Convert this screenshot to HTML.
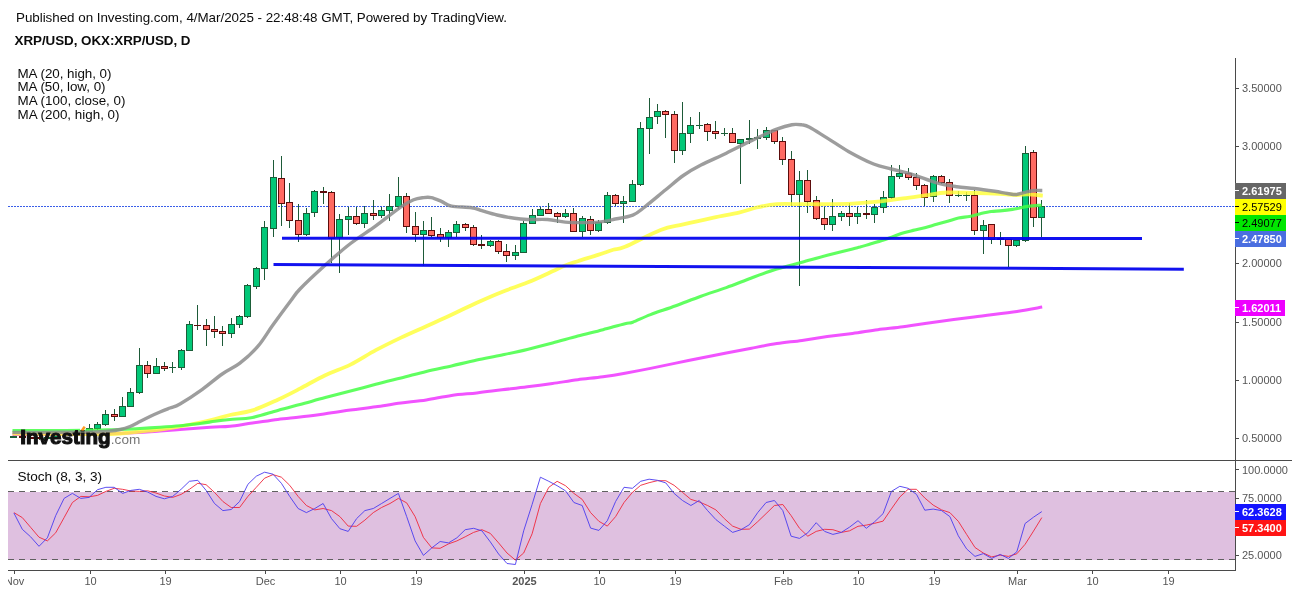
<!DOCTYPE html><html><head><meta charset="utf-8"><title>XRP/USD</title><style>html,body{margin:0;padding:0;background:#fff;overflow:hidden}body{width:1299px;height:594px;position:relative}</style></head><body>
<svg width="1299" height="594" viewBox="0 0 1299 594" style="position:absolute;left:0;top:0">
<rect x="8" y="492" width="1227" height="68" fill="#dfc0e0"/>
<g shape-rendering="crispEdges">
<line x1="8" y1="491.5" x2="1235" y2="491.5" stroke="#606060" stroke-width="1" stroke-dasharray="6 5"/>
<line x1="8" y1="559.5" x2="1235" y2="559.5" stroke="#606060" stroke-width="1" stroke-dasharray="6 5"/>
<line x1="8" y1="206.5" x2="1235" y2="206.5" stroke="#3a5ee8" stroke-width="1" stroke-dasharray="2 1"/>
<line x1="13.5" y1="435" x2="13.5" y2="438" stroke="#1d5a38" stroke-width="1"/>
<rect x="10.5" y="436.5" width="6" height="1" fill="#02c878" stroke="#1b5e38" stroke-width="1"/>
<line x1="22.5" y1="436" x2="22.5" y2="438" stroke="#1d5a38" stroke-width="1"/>
<rect x="19.5" y="436.5" width="6" height="1" fill="#ff6a62" stroke="#5c0c0c" stroke-width="1"/>
<line x1="30.5" y1="436" x2="30.5" y2="439" stroke="#1d5a38" stroke-width="1"/>
<rect x="27.5" y="437.5" width="6" height="1" fill="#ff6a62" stroke="#5c0c0c" stroke-width="1"/>
<line x1="39.5" y1="436" x2="39.5" y2="440" stroke="#1d5a38" stroke-width="1"/>
<rect x="36.5" y="437.5" width="6" height="1" fill="#ff6a62" stroke="#5c0c0c" stroke-width="1"/>
<line x1="47.5" y1="436" x2="47.5" y2="439" stroke="#1d5a38" stroke-width="1"/>
<rect x="44.5" y="437.5" width="6" height="1" fill="#02c878" stroke="#1b5e38" stroke-width="1"/>
<line x1="55.5" y1="432" x2="55.5" y2="438" stroke="#1d5a38" stroke-width="1"/>
<rect x="52.5" y="432.5" width="6" height="5" fill="#02c878" stroke="#1b5e38" stroke-width="1"/>
<line x1="64.5" y1="431" x2="64.5" y2="434" stroke="#1d5a38" stroke-width="1"/>
<rect x="61.5" y="432.5" width="6" height="1" fill="#ff6a62" stroke="#5c0c0c" stroke-width="1"/>
<line x1="72.5" y1="432" x2="72.5" y2="435" stroke="#1d5a38" stroke-width="1"/>
<rect x="69.5" y="433.5" width="6" height="1" fill="#ff6a62" stroke="#5c0c0c" stroke-width="1"/>
<line x1="80.5" y1="430" x2="80.5" y2="434" stroke="#1d5a38" stroke-width="1"/>
<rect x="77.5" y="431.5" width="6" height="2" fill="#02c878" stroke="#1b5e38" stroke-width="1"/>
<line x1="89.5" y1="424" x2="89.5" y2="432" stroke="#1d5a38" stroke-width="1"/>
<rect x="86.5" y="428.5" width="6" height="3" fill="#02c878" stroke="#1b5e38" stroke-width="1"/>
<line x1="97.5" y1="422" x2="97.5" y2="430" stroke="#1d5a38" stroke-width="1"/>
<rect x="94.5" y="424.5" width="6" height="4" fill="#02c878" stroke="#1b5e38" stroke-width="1"/>
<line x1="105.5" y1="410" x2="105.5" y2="426" stroke="#1d5a38" stroke-width="1"/>
<rect x="102.5" y="414.5" width="6" height="10" fill="#02c878" stroke="#1b5e38" stroke-width="1"/>
<line x1="114.5" y1="409" x2="114.5" y2="421" stroke="#1d5a38" stroke-width="1"/>
<rect x="111.5" y="414.5" width="6" height="2" fill="#ff6a62" stroke="#5c0c0c" stroke-width="1"/>
<line x1="122.5" y1="397" x2="122.5" y2="416" stroke="#1d5a38" stroke-width="1"/>
<rect x="119.5" y="406.5" width="6" height="10" fill="#02c878" stroke="#1b5e38" stroke-width="1"/>
<line x1="130.5" y1="388" x2="130.5" y2="406" stroke="#1d5a38" stroke-width="1"/>
<rect x="127.5" y="392.5" width="6" height="14" fill="#02c878" stroke="#1b5e38" stroke-width="1"/>
<line x1="139.5" y1="348" x2="139.5" y2="394" stroke="#1d5a38" stroke-width="1"/>
<rect x="136.5" y="365.5" width="6" height="27" fill="#02c878" stroke="#1b5e38" stroke-width="1"/>
<line x1="147.5" y1="361" x2="147.5" y2="378" stroke="#1d5a38" stroke-width="1"/>
<rect x="144.5" y="365.5" width="6" height="8" fill="#ff6a62" stroke="#5c0c0c" stroke-width="1"/>
<line x1="156.5" y1="358" x2="156.5" y2="374" stroke="#1d5a38" stroke-width="1"/>
<rect x="153.5" y="366.5" width="6" height="7" fill="#02c878" stroke="#1b5e38" stroke-width="1"/>
<line x1="164.5" y1="362" x2="164.5" y2="371" stroke="#1d5a38" stroke-width="1"/>
<rect x="161.5" y="366.5" width="6" height="2" fill="#ff6a62" stroke="#5c0c0c" stroke-width="1"/>
<line x1="172.5" y1="362" x2="172.5" y2="373" stroke="#1d5a38" stroke-width="1"/>
<line x1="169" y1="367.5" x2="176" y2="367.5" stroke="#1b5e38" stroke-width="1"/>
<line x1="181.5" y1="349" x2="181.5" y2="370" stroke="#1d5a38" stroke-width="1"/>
<rect x="178.5" y="350.5" width="6" height="17" fill="#02c878" stroke="#1b5e38" stroke-width="1"/>
<line x1="189.5" y1="321" x2="189.5" y2="350" stroke="#1d5a38" stroke-width="1"/>
<rect x="186.5" y="324.5" width="6" height="26" fill="#02c878" stroke="#1b5e38" stroke-width="1"/>
<line x1="197.5" y1="305" x2="197.5" y2="330" stroke="#1d5a38" stroke-width="1"/>
<line x1="194" y1="325.5" x2="201" y2="325.5" stroke="#5c0c0c" stroke-width="1"/>
<line x1="206.5" y1="319" x2="206.5" y2="346" stroke="#1d5a38" stroke-width="1"/>
<rect x="203.5" y="325.5" width="6" height="4" fill="#ff6a62" stroke="#5c0c0c" stroke-width="1"/>
<line x1="214.5" y1="316" x2="214.5" y2="338" stroke="#1d5a38" stroke-width="1"/>
<rect x="211.5" y="329.5" width="6" height="2" fill="#ff6a62" stroke="#5c0c0c" stroke-width="1"/>
<line x1="222.5" y1="326" x2="222.5" y2="346" stroke="#1d5a38" stroke-width="1"/>
<rect x="219.5" y="331.5" width="6" height="2" fill="#ff6a62" stroke="#5c0c0c" stroke-width="1"/>
<line x1="231.5" y1="318" x2="231.5" y2="338" stroke="#1d5a38" stroke-width="1"/>
<rect x="228.5" y="324.5" width="6" height="9" fill="#02c878" stroke="#1b5e38" stroke-width="1"/>
<line x1="239.5" y1="315" x2="239.5" y2="328" stroke="#1d5a38" stroke-width="1"/>
<rect x="236.5" y="316.5" width="6" height="8" fill="#02c878" stroke="#1b5e38" stroke-width="1"/>
<line x1="247.5" y1="284" x2="247.5" y2="318" stroke="#1d5a38" stroke-width="1"/>
<rect x="244.5" y="285.5" width="6" height="31" fill="#02c878" stroke="#1b5e38" stroke-width="1"/>
<line x1="256.5" y1="267" x2="256.5" y2="289" stroke="#1d5a38" stroke-width="1"/>
<rect x="253.5" y="268.5" width="6" height="18" fill="#02c878" stroke="#1b5e38" stroke-width="1"/>
<line x1="264.5" y1="221" x2="264.5" y2="280" stroke="#1d5a38" stroke-width="1"/>
<rect x="261.5" y="227.5" width="6" height="41" fill="#02c878" stroke="#1b5e38" stroke-width="1"/>
<line x1="273.5" y1="160" x2="273.5" y2="237" stroke="#1d5a38" stroke-width="1"/>
<rect x="270.5" y="177.5" width="6" height="51" fill="#02c878" stroke="#1b5e38" stroke-width="1"/>
<line x1="281.5" y1="156" x2="281.5" y2="226" stroke="#1d5a38" stroke-width="1"/>
<rect x="278.5" y="178.5" width="6" height="25" fill="#ff6a62" stroke="#5c0c0c" stroke-width="1"/>
<line x1="289.5" y1="183" x2="289.5" y2="228" stroke="#1d5a38" stroke-width="1"/>
<rect x="286.5" y="202.5" width="6" height="18" fill="#ff6a62" stroke="#5c0c0c" stroke-width="1"/>
<line x1="298.5" y1="204" x2="298.5" y2="242" stroke="#1d5a38" stroke-width="1"/>
<rect x="295.5" y="220.5" width="6" height="14" fill="#ff6a62" stroke="#5c0c0c" stroke-width="1"/>
<line x1="306.5" y1="208" x2="306.5" y2="236" stroke="#1d5a38" stroke-width="1"/>
<rect x="303.5" y="213.5" width="6" height="21" fill="#02c878" stroke="#1b5e38" stroke-width="1"/>
<line x1="314.5" y1="190" x2="314.5" y2="217" stroke="#1d5a38" stroke-width="1"/>
<rect x="311.5" y="191.5" width="6" height="21" fill="#02c878" stroke="#1b5e38" stroke-width="1"/>
<line x1="323.5" y1="187" x2="323.5" y2="204" stroke="#1d5a38" stroke-width="1"/>
<rect x="320.5" y="191.5" width="6" height="1" fill="#ff6a62" stroke="#5c0c0c" stroke-width="1"/>
<line x1="331.5" y1="191" x2="331.5" y2="263" stroke="#1d5a38" stroke-width="1"/>
<rect x="328.5" y="192.5" width="6" height="46" fill="#ff6a62" stroke="#5c0c0c" stroke-width="1"/>
<line x1="339.5" y1="214" x2="339.5" y2="273" stroke="#1d5a38" stroke-width="1"/>
<rect x="336.5" y="219.5" width="6" height="18" fill="#02c878" stroke="#1b5e38" stroke-width="1"/>
<line x1="348.5" y1="207" x2="348.5" y2="235" stroke="#1d5a38" stroke-width="1"/>
<rect x="345.5" y="216.5" width="6" height="3" fill="#02c878" stroke="#1b5e38" stroke-width="1"/>
<line x1="356.5" y1="207" x2="356.5" y2="225" stroke="#1d5a38" stroke-width="1"/>
<rect x="353.5" y="216.5" width="6" height="7" fill="#ff6a62" stroke="#5c0c0c" stroke-width="1"/>
<line x1="364.5" y1="206" x2="364.5" y2="228" stroke="#1d5a38" stroke-width="1"/>
<rect x="361.5" y="213.5" width="6" height="10" fill="#02c878" stroke="#1b5e38" stroke-width="1"/>
<line x1="373.5" y1="200" x2="373.5" y2="220" stroke="#1d5a38" stroke-width="1"/>
<rect x="370.5" y="213.5" width="6" height="2" fill="#ff6a62" stroke="#5c0c0c" stroke-width="1"/>
<line x1="381.5" y1="207" x2="381.5" y2="218" stroke="#1d5a38" stroke-width="1"/>
<rect x="378.5" y="210.5" width="6" height="5" fill="#02c878" stroke="#1b5e38" stroke-width="1"/>
<line x1="389.5" y1="194" x2="389.5" y2="221" stroke="#1d5a38" stroke-width="1"/>
<rect x="386.5" y="206.5" width="6" height="4" fill="#02c878" stroke="#1b5e38" stroke-width="1"/>
<line x1="398.5" y1="177" x2="398.5" y2="209" stroke="#1d5a38" stroke-width="1"/>
<rect x="395.5" y="196.5" width="6" height="10" fill="#02c878" stroke="#1b5e38" stroke-width="1"/>
<line x1="406.5" y1="193" x2="406.5" y2="233" stroke="#1d5a38" stroke-width="1"/>
<rect x="403.5" y="196.5" width="6" height="30" fill="#ff6a62" stroke="#5c0c0c" stroke-width="1"/>
<line x1="415.5" y1="212" x2="415.5" y2="242" stroke="#1d5a38" stroke-width="1"/>
<rect x="412.5" y="226.5" width="6" height="8" fill="#ff6a62" stroke="#5c0c0c" stroke-width="1"/>
<line x1="423.5" y1="221" x2="423.5" y2="266" stroke="#1d5a38" stroke-width="1"/>
<rect x="420.5" y="230.5" width="6" height="4" fill="#02c878" stroke="#1b5e38" stroke-width="1"/>
<line x1="431.5" y1="217" x2="431.5" y2="237" stroke="#1d5a38" stroke-width="1"/>
<rect x="428.5" y="230.5" width="6" height="5" fill="#ff6a62" stroke="#5c0c0c" stroke-width="1"/>
<line x1="440.5" y1="228" x2="440.5" y2="242" stroke="#1d5a38" stroke-width="1"/>
<rect x="437.5" y="234.5" width="6" height="3" fill="#ff6a62" stroke="#5c0c0c" stroke-width="1"/>
<line x1="448.5" y1="230" x2="448.5" y2="247" stroke="#1d5a38" stroke-width="1"/>
<rect x="445.5" y="232.5" width="6" height="5" fill="#02c878" stroke="#1b5e38" stroke-width="1"/>
<line x1="456.5" y1="221" x2="456.5" y2="237" stroke="#1d5a38" stroke-width="1"/>
<rect x="453.5" y="224.5" width="6" height="8" fill="#02c878" stroke="#1b5e38" stroke-width="1"/>
<line x1="465.5" y1="223" x2="465.5" y2="231" stroke="#1d5a38" stroke-width="1"/>
<rect x="462.5" y="224.5" width="6" height="3" fill="#ff6a62" stroke="#5c0c0c" stroke-width="1"/>
<line x1="473.5" y1="225" x2="473.5" y2="246" stroke="#1d5a38" stroke-width="1"/>
<rect x="470.5" y="227.5" width="6" height="17" fill="#ff6a62" stroke="#5c0c0c" stroke-width="1"/>
<line x1="481.5" y1="235" x2="481.5" y2="249" stroke="#1d5a38" stroke-width="1"/>
<rect x="478.5" y="244.5" width="6" height="1" fill="#ff6a62" stroke="#5c0c0c" stroke-width="1"/>
<line x1="490.5" y1="240" x2="490.5" y2="247" stroke="#1d5a38" stroke-width="1"/>
<rect x="487.5" y="241.5" width="6" height="4" fill="#02c878" stroke="#1b5e38" stroke-width="1"/>
<line x1="498.5" y1="240" x2="498.5" y2="254" stroke="#1d5a38" stroke-width="1"/>
<rect x="495.5" y="241.5" width="6" height="10" fill="#ff6a62" stroke="#5c0c0c" stroke-width="1"/>
<line x1="506.5" y1="244" x2="506.5" y2="262" stroke="#1d5a38" stroke-width="1"/>
<rect x="503.5" y="251.5" width="6" height="4" fill="#ff6a62" stroke="#5c0c0c" stroke-width="1"/>
<line x1="515.5" y1="245" x2="515.5" y2="260" stroke="#1d5a38" stroke-width="1"/>
<rect x="512.5" y="252.5" width="6" height="3" fill="#02c878" stroke="#1b5e38" stroke-width="1"/>
<line x1="523.5" y1="221" x2="523.5" y2="253" stroke="#1d5a38" stroke-width="1"/>
<rect x="520.5" y="223.5" width="6" height="29" fill="#02c878" stroke="#1b5e38" stroke-width="1"/>
<line x1="532.5" y1="209" x2="532.5" y2="224" stroke="#1d5a38" stroke-width="1"/>
<rect x="529.5" y="215.5" width="6" height="8" fill="#02c878" stroke="#1b5e38" stroke-width="1"/>
<line x1="540.5" y1="207" x2="540.5" y2="216" stroke="#1d5a38" stroke-width="1"/>
<rect x="537.5" y="209.5" width="6" height="6" fill="#02c878" stroke="#1b5e38" stroke-width="1"/>
<line x1="548.5" y1="203" x2="548.5" y2="214" stroke="#1d5a38" stroke-width="1"/>
<rect x="545.5" y="209.5" width="6" height="4" fill="#ff6a62" stroke="#5c0c0c" stroke-width="1"/>
<line x1="557.5" y1="212" x2="557.5" y2="223" stroke="#1d5a38" stroke-width="1"/>
<rect x="554.5" y="213.5" width="6" height="3" fill="#ff6a62" stroke="#5c0c0c" stroke-width="1"/>
<line x1="565.5" y1="209" x2="565.5" y2="218" stroke="#1d5a38" stroke-width="1"/>
<rect x="562.5" y="213.5" width="6" height="3" fill="#02c878" stroke="#1b5e38" stroke-width="1"/>
<line x1="573.5" y1="208" x2="573.5" y2="231" stroke="#1d5a38" stroke-width="1"/>
<rect x="570.5" y="213.5" width="6" height="18" fill="#ff6a62" stroke="#5c0c0c" stroke-width="1"/>
<line x1="582.5" y1="216" x2="582.5" y2="237" stroke="#1d5a38" stroke-width="1"/>
<rect x="579.5" y="218.5" width="6" height="13" fill="#02c878" stroke="#1b5e38" stroke-width="1"/>
<line x1="590.5" y1="216" x2="590.5" y2="235" stroke="#1d5a38" stroke-width="1"/>
<rect x="587.5" y="219.5" width="6" height="11" fill="#ff6a62" stroke="#5c0c0c" stroke-width="1"/>
<line x1="598.5" y1="220" x2="598.5" y2="232" stroke="#1d5a38" stroke-width="1"/>
<rect x="595.5" y="222.5" width="6" height="8" fill="#02c878" stroke="#1b5e38" stroke-width="1"/>
<line x1="607.5" y1="192" x2="607.5" y2="224" stroke="#1d5a38" stroke-width="1"/>
<rect x="604.5" y="195.5" width="6" height="27" fill="#02c878" stroke="#1b5e38" stroke-width="1"/>
<line x1="615.5" y1="194" x2="615.5" y2="206" stroke="#1d5a38" stroke-width="1"/>
<rect x="612.5" y="195.5" width="6" height="8" fill="#ff6a62" stroke="#5c0c0c" stroke-width="1"/>
<line x1="623.5" y1="196" x2="623.5" y2="223" stroke="#1d5a38" stroke-width="1"/>
<rect x="620.5" y="201.5" width="6" height="2" fill="#02c878" stroke="#1b5e38" stroke-width="1"/>
<line x1="632.5" y1="180" x2="632.5" y2="202" stroke="#1d5a38" stroke-width="1"/>
<rect x="629.5" y="184.5" width="6" height="17" fill="#02c878" stroke="#1b5e38" stroke-width="1"/>
<line x1="640.5" y1="122" x2="640.5" y2="186" stroke="#1d5a38" stroke-width="1"/>
<rect x="637.5" y="128.5" width="6" height="56" fill="#02c878" stroke="#1b5e38" stroke-width="1"/>
<line x1="649.5" y1="98" x2="649.5" y2="154" stroke="#1d5a38" stroke-width="1"/>
<rect x="646.5" y="117.5" width="6" height="11" fill="#02c878" stroke="#1b5e38" stroke-width="1"/>
<line x1="657.5" y1="104" x2="657.5" y2="124" stroke="#1d5a38" stroke-width="1"/>
<rect x="654.5" y="111.5" width="6" height="5" fill="#02c878" stroke="#1b5e38" stroke-width="1"/>
<line x1="665.5" y1="110" x2="665.5" y2="138" stroke="#1d5a38" stroke-width="1"/>
<rect x="662.5" y="111.5" width="6" height="3" fill="#ff6a62" stroke="#5c0c0c" stroke-width="1"/>
<line x1="674.5" y1="111" x2="674.5" y2="163" stroke="#1d5a38" stroke-width="1"/>
<rect x="671.5" y="114.5" width="6" height="36" fill="#ff6a62" stroke="#5c0c0c" stroke-width="1"/>
<line x1="682.5" y1="102" x2="682.5" y2="155" stroke="#1d5a38" stroke-width="1"/>
<rect x="679.5" y="133.5" width="6" height="17" fill="#02c878" stroke="#1b5e38" stroke-width="1"/>
<line x1="690.5" y1="117" x2="690.5" y2="143" stroke="#1d5a38" stroke-width="1"/>
<rect x="687.5" y="125.5" width="6" height="8" fill="#02c878" stroke="#1b5e38" stroke-width="1"/>
<line x1="699.5" y1="112" x2="699.5" y2="129" stroke="#1d5a38" stroke-width="1"/>
<line x1="696" y1="125.5" x2="703" y2="125.5" stroke="#1b5e38" stroke-width="1"/>
<line x1="707.5" y1="123" x2="707.5" y2="141" stroke="#1d5a38" stroke-width="1"/>
<rect x="704.5" y="124.5" width="6" height="7" fill="#ff6a62" stroke="#5c0c0c" stroke-width="1"/>
<line x1="715.5" y1="121" x2="715.5" y2="139" stroke="#1d5a38" stroke-width="1"/>
<rect x="712.5" y="131.5" width="6" height="2" fill="#ff6a62" stroke="#5c0c0c" stroke-width="1"/>
<line x1="724.5" y1="128" x2="724.5" y2="136" stroke="#1d5a38" stroke-width="1"/>
<line x1="721" y1="133.5" x2="728" y2="133.5" stroke="#1b5e38" stroke-width="1"/>
<line x1="732.5" y1="128" x2="732.5" y2="143" stroke="#1d5a38" stroke-width="1"/>
<rect x="729.5" y="133.5" width="6" height="9" fill="#ff6a62" stroke="#5c0c0c" stroke-width="1"/>
<line x1="740.5" y1="139" x2="740.5" y2="184" stroke="#1d5a38" stroke-width="1"/>
<rect x="737.5" y="139.5" width="6" height="4" fill="#02c878" stroke="#1b5e38" stroke-width="1"/>
<line x1="749.5" y1="120" x2="749.5" y2="144" stroke="#1d5a38" stroke-width="1"/>
<rect x="746.5" y="138.5" width="6" height="1" fill="#02c878" stroke="#1b5e38" stroke-width="1"/>
<line x1="757.5" y1="129" x2="757.5" y2="149" stroke="#1d5a38" stroke-width="1"/>
<rect x="754.5" y="137.5" width="6" height="1" fill="#02c878" stroke="#1b5e38" stroke-width="1"/>
<line x1="766.5" y1="127" x2="766.5" y2="140" stroke="#1d5a38" stroke-width="1"/>
<rect x="763.5" y="130.5" width="6" height="7" fill="#02c878" stroke="#1b5e38" stroke-width="1"/>
<line x1="774.5" y1="130" x2="774.5" y2="144" stroke="#1d5a38" stroke-width="1"/>
<rect x="771.5" y="130.5" width="6" height="11" fill="#ff6a62" stroke="#5c0c0c" stroke-width="1"/>
<line x1="782.5" y1="137" x2="782.5" y2="165" stroke="#1d5a38" stroke-width="1"/>
<rect x="779.5" y="141.5" width="6" height="18" fill="#ff6a62" stroke="#5c0c0c" stroke-width="1"/>
<line x1="791.5" y1="151" x2="791.5" y2="206" stroke="#1d5a38" stroke-width="1"/>
<rect x="788.5" y="159.5" width="6" height="35" fill="#ff6a62" stroke="#5c0c0c" stroke-width="1"/>
<line x1="799.5" y1="171" x2="799.5" y2="286" stroke="#1d5a38" stroke-width="1"/>
<rect x="796.5" y="180.5" width="6" height="14" fill="#02c878" stroke="#1b5e38" stroke-width="1"/>
<line x1="807.5" y1="170" x2="807.5" y2="213" stroke="#1d5a38" stroke-width="1"/>
<rect x="804.5" y="180.5" width="6" height="21" fill="#ff6a62" stroke="#5c0c0c" stroke-width="1"/>
<line x1="816.5" y1="196" x2="816.5" y2="220" stroke="#1d5a38" stroke-width="1"/>
<rect x="813.5" y="200.5" width="6" height="18" fill="#ff6a62" stroke="#5c0c0c" stroke-width="1"/>
<line x1="824.5" y1="207" x2="824.5" y2="230" stroke="#1d5a38" stroke-width="1"/>
<rect x="821.5" y="218.5" width="6" height="6" fill="#ff6a62" stroke="#5c0c0c" stroke-width="1"/>
<line x1="832.5" y1="199" x2="832.5" y2="231" stroke="#1d5a38" stroke-width="1"/>
<rect x="829.5" y="216.5" width="6" height="8" fill="#02c878" stroke="#1b5e38" stroke-width="1"/>
<line x1="841.5" y1="211" x2="841.5" y2="221" stroke="#1d5a38" stroke-width="1"/>
<rect x="838.5" y="213.5" width="6" height="3" fill="#02c878" stroke="#1b5e38" stroke-width="1"/>
<line x1="849.5" y1="203" x2="849.5" y2="226" stroke="#1d5a38" stroke-width="1"/>
<rect x="846.5" y="213.5" width="6" height="3" fill="#ff6a62" stroke="#5c0c0c" stroke-width="1"/>
<line x1="857.5" y1="207" x2="857.5" y2="224" stroke="#1d5a38" stroke-width="1"/>
<rect x="854.5" y="213.5" width="6" height="3" fill="#02c878" stroke="#1b5e38" stroke-width="1"/>
<line x1="866.5" y1="200" x2="866.5" y2="219" stroke="#1d5a38" stroke-width="1"/>
<rect x="863.5" y="213.5" width="6" height="1" fill="#ff6a62" stroke="#5c0c0c" stroke-width="1"/>
<line x1="874.5" y1="204" x2="874.5" y2="223" stroke="#1d5a38" stroke-width="1"/>
<rect x="871.5" y="207.5" width="6" height="7" fill="#02c878" stroke="#1b5e38" stroke-width="1"/>
<line x1="883.5" y1="191" x2="883.5" y2="213" stroke="#1d5a38" stroke-width="1"/>
<rect x="880.5" y="197.5" width="6" height="10" fill="#02c878" stroke="#1b5e38" stroke-width="1"/>
<line x1="891.5" y1="165" x2="891.5" y2="199" stroke="#1d5a38" stroke-width="1"/>
<rect x="888.5" y="176.5" width="6" height="21" fill="#02c878" stroke="#1b5e38" stroke-width="1"/>
<line x1="899.5" y1="165" x2="899.5" y2="179" stroke="#1d5a38" stroke-width="1"/>
<rect x="896.5" y="173.5" width="6" height="3" fill="#02c878" stroke="#1b5e38" stroke-width="1"/>
<line x1="908.5" y1="168" x2="908.5" y2="180" stroke="#1d5a38" stroke-width="1"/>
<rect x="905.5" y="173.5" width="6" height="4" fill="#ff6a62" stroke="#5c0c0c" stroke-width="1"/>
<line x1="916.5" y1="173" x2="916.5" y2="190" stroke="#1d5a38" stroke-width="1"/>
<rect x="913.5" y="177.5" width="6" height="8" fill="#ff6a62" stroke="#5c0c0c" stroke-width="1"/>
<line x1="924.5" y1="184" x2="924.5" y2="206" stroke="#1d5a38" stroke-width="1"/>
<rect x="921.5" y="185.5" width="6" height="12" fill="#ff6a62" stroke="#5c0c0c" stroke-width="1"/>
<line x1="933.5" y1="175" x2="933.5" y2="202" stroke="#1d5a38" stroke-width="1"/>
<rect x="930.5" y="176.5" width="6" height="20" fill="#02c878" stroke="#1b5e38" stroke-width="1"/>
<line x1="941.5" y1="175" x2="941.5" y2="184" stroke="#1d5a38" stroke-width="1"/>
<rect x="938.5" y="176.5" width="6" height="6" fill="#ff6a62" stroke="#5c0c0c" stroke-width="1"/>
<line x1="949.5" y1="179" x2="949.5" y2="203" stroke="#1d5a38" stroke-width="1"/>
<rect x="946.5" y="182.5" width="6" height="13" fill="#ff6a62" stroke="#5c0c0c" stroke-width="1"/>
<line x1="958.5" y1="191" x2="958.5" y2="197" stroke="#1d5a38" stroke-width="1"/>
<line x1="955" y1="195.5" x2="962" y2="195.5" stroke="#1b5e38" stroke-width="1"/>
<line x1="966.5" y1="192" x2="966.5" y2="201" stroke="#1d5a38" stroke-width="1"/>
<line x1="963" y1="195.5" x2="970" y2="195.5" stroke="#1b5e38" stroke-width="1"/>
<line x1="974.5" y1="190" x2="974.5" y2="235" stroke="#1d5a38" stroke-width="1"/>
<rect x="971.5" y="195.5" width="6" height="35" fill="#ff6a62" stroke="#5c0c0c" stroke-width="1"/>
<line x1="983.5" y1="220" x2="983.5" y2="254" stroke="#1d5a38" stroke-width="1"/>
<rect x="980.5" y="225.5" width="6" height="5" fill="#02c878" stroke="#1b5e38" stroke-width="1"/>
<line x1="991.5" y1="224" x2="991.5" y2="244" stroke="#1d5a38" stroke-width="1"/>
<rect x="988.5" y="224.5" width="6" height="15" fill="#ff6a62" stroke="#5c0c0c" stroke-width="1"/>
<line x1="1000.5" y1="232" x2="1000.5" y2="245" stroke="#1d5a38" stroke-width="1"/>
<rect x="997.5" y="238.5" width="6" height="1" fill="#ff6a62" stroke="#5c0c0c" stroke-width="1"/>
<line x1="1008.5" y1="239" x2="1008.5" y2="267" stroke="#1d5a38" stroke-width="1"/>
<rect x="1005.5" y="239.5" width="6" height="6" fill="#ff6a62" stroke="#5c0c0c" stroke-width="1"/>
<line x1="1016.5" y1="240" x2="1016.5" y2="247" stroke="#1d5a38" stroke-width="1"/>
<rect x="1013.5" y="240.5" width="6" height="5" fill="#02c878" stroke="#1b5e38" stroke-width="1"/>
<line x1="1025.5" y1="146" x2="1025.5" y2="242" stroke="#1d5a38" stroke-width="1"/>
<rect x="1022.5" y="153.5" width="6" height="87" fill="#02c878" stroke="#1b5e38" stroke-width="1"/>
<line x1="1033.5" y1="150" x2="1033.5" y2="227" stroke="#1d5a38" stroke-width="1"/>
<rect x="1030.5" y="152.5" width="6" height="65" fill="#ff6a62" stroke="#5c0c0c" stroke-width="1"/>
<line x1="1041.5" y1="200" x2="1041.5" y2="237" stroke="#1d5a38" stroke-width="1"/>
<rect x="1038.5" y="206.5" width="6" height="11" fill="#02c878" stroke="#1b5e38" stroke-width="1"/>
</g>
<path d="M12.5,434.5C20.4,434.5 42.6,434.5 60.0,434.3C77.4,434.1 100.3,434.1 117.0,433.5C133.7,432.9 149.5,431.7 160.0,431.0C170.5,430.3 173.3,430.0 180.0,429.5C186.7,429.0 194.2,428.4 200.0,428.0C205.8,427.6 210.0,427.3 215.0,427.0C220.0,426.7 223.8,426.9 230.0,426.2C236.2,425.5 244.5,424.1 252.5,423.0C260.5,421.9 269.9,420.4 277.8,419.4C285.7,418.4 292.1,417.9 300.0,417.0C307.9,416.1 316.9,414.9 325.3,413.8C333.7,412.7 342.1,411.3 350.5,410.1C358.9,408.9 367.4,408.0 375.8,406.8C384.2,405.6 392.6,404.1 401.0,403.0C409.4,401.9 417.9,401.2 426.3,399.9C434.7,398.6 443.1,396.6 451.5,395.4C459.9,394.2 468.4,393.8 476.8,392.9C485.2,392.0 493.6,390.8 502.0,389.8C510.4,388.8 518.9,387.9 527.3,386.8C535.7,385.8 544.1,384.7 552.5,383.5C560.9,382.3 569.4,380.8 577.8,379.7C586.2,378.6 595.1,377.8 603.0,376.7C610.9,375.6 617.1,374.6 625.0,373.2C632.9,371.8 642.0,370.1 650.5,368.4C659.0,366.7 667.4,364.8 675.8,363.1C684.2,361.4 692.6,359.7 701.0,358.0C709.4,356.3 717.9,354.6 726.3,353.0C734.7,351.4 743.1,349.8 751.5,348.2C759.9,346.6 768.4,344.9 776.8,343.6C785.2,342.3 793.6,341.6 802.0,340.4C810.4,339.2 818.9,337.8 827.3,336.6C835.7,335.5 844.1,334.6 852.5,333.5C860.9,332.4 869.4,330.8 877.8,329.7C886.2,328.6 895.1,327.8 903.0,326.7C910.9,325.6 913.2,325.0 925.0,323.4C936.8,321.8 958.7,318.9 974.0,316.9C989.3,314.9 1005.6,313.0 1017.0,311.4C1028.4,309.8 1038.0,307.8 1042.2,307.1" fill="none" stroke="#f040ff" stroke-opacity="0.9" stroke-width="3" stroke-linejoin="round"/>
<path d="M12.5,433.5C20.4,433.6 45.4,433.9 60.0,434.0C74.6,434.1 90.0,434.1 100.0,434.0C110.0,433.9 113.3,433.9 120.0,433.5C126.7,433.1 133.3,432.2 140.0,431.5C146.7,430.8 153.3,430.3 160.0,429.5C166.7,428.7 173.3,427.7 180.0,426.5C186.7,425.3 194.2,423.8 200.0,422.5C205.8,421.2 210.0,420.2 215.0,419.0C220.0,417.8 223.8,416.4 230.0,415.0C236.2,413.6 244.5,412.9 252.5,410.4C260.5,407.8 269.9,403.3 277.8,399.7C285.7,396.1 292.1,392.7 300.0,388.6C307.9,384.5 316.9,379.2 325.3,375.2C333.7,371.2 342.1,368.8 350.5,364.6C358.9,360.4 367.4,354.7 375.8,350.2C384.2,345.7 392.6,341.6 401.0,337.6C409.4,333.6 417.9,330.0 426.3,326.2C434.7,322.4 443.1,318.7 451.5,314.8C459.9,310.9 468.4,306.5 476.8,302.7C485.2,298.9 493.6,295.2 502.0,291.9C510.4,288.5 518.9,286.0 527.3,282.6C535.7,279.2 546.2,274.2 552.5,271.3C558.8,268.4 561.0,267.2 565.2,265.5C569.4,263.8 572.3,263.0 577.8,261.2C583.3,259.4 592.1,256.8 598.0,254.9C603.9,253.0 608.6,251.2 613.1,249.8C617.6,248.5 617.1,250.1 625.0,246.8C632.9,243.5 650.9,233.7 660.6,230.0C670.3,226.3 674.5,226.5 683.3,224.4C692.1,222.3 704.3,219.6 713.6,217.6C722.9,215.6 731.7,214.3 738.9,212.6C746.1,210.9 750.3,208.9 756.6,207.5C762.9,206.1 769.2,204.8 776.8,204.2C784.4,203.6 793.6,204.2 802.0,204.2C810.4,204.2 818.9,204.3 827.3,204.2C835.7,204.1 844.1,204.0 852.5,203.6C860.9,203.2 869.4,202.6 877.8,201.7C886.2,200.8 895.1,199.4 903.0,198.4C910.9,197.4 917.7,196.4 925.0,195.4C932.3,194.4 938.6,192.9 946.9,192.5C955.2,192.1 965.8,192.8 974.6,193.0C983.4,193.2 993.0,193.5 999.9,193.8C1006.8,194.1 1011.7,194.9 1016.3,195.0C1020.9,195.1 1023.3,194.2 1027.7,194.3C1032.1,194.4 1040.3,195.4 1042.8,195.6" fill="none" stroke="#ffff33" stroke-opacity="0.8" stroke-width="3.8" stroke-linejoin="round"/>
<path d="M12.5,430.6C20.4,430.6 45.4,430.6 60.0,430.5C74.6,430.4 90.0,430.2 100.0,430.0C110.0,429.8 113.3,429.8 120.0,429.5C126.7,429.2 133.3,428.9 140.0,428.5C146.7,428.1 153.3,427.6 160.0,427.2C166.7,426.8 173.3,426.4 180.0,425.8C186.7,425.2 194.2,424.2 200.0,423.5C205.8,422.8 210.0,422.0 215.0,421.3C220.0,420.6 223.8,420.1 230.0,419.5C236.2,418.9 244.5,418.9 252.5,417.4C260.5,415.9 269.9,412.5 277.8,410.4C285.7,408.2 292.1,406.6 300.0,404.5C307.9,402.4 316.9,399.8 325.3,397.6C333.7,395.4 342.1,393.3 350.5,391.1C358.9,388.9 367.4,386.5 375.8,384.3C384.2,382.1 392.6,380.1 401.0,378.0C409.4,375.9 417.9,373.4 426.3,371.4C434.7,369.4 443.1,367.8 451.5,365.9C459.9,364.0 468.4,361.9 476.8,360.1C485.2,358.3 493.6,356.8 502.0,355.0C510.4,353.2 518.9,351.4 527.3,349.4C535.7,347.4 544.1,345.3 552.5,343.1C560.9,340.9 569.4,338.3 577.8,336.1C586.2,333.9 595.1,331.8 603.0,329.7C610.9,327.6 620.0,324.9 625.0,323.7C630.0,322.4 628.5,323.7 632.8,322.2C637.0,320.7 643.3,317.3 650.5,314.6C657.7,311.9 667.4,308.9 675.8,305.8C684.2,302.7 692.6,299.2 701.0,296.2C709.4,293.2 717.9,290.6 726.3,287.6C734.7,284.6 743.1,281.1 751.5,278.0C759.9,274.9 768.4,271.7 776.8,269.1C785.2,266.5 793.6,264.6 802.0,262.3C810.4,260.0 818.9,257.5 827.3,255.3C835.7,253.1 847.0,250.3 852.5,248.9C858.0,247.5 856.9,247.9 860.0,247.1C863.1,246.2 867.2,244.9 870.9,243.8C874.5,242.7 878.2,241.7 881.9,240.5C885.5,239.3 889.1,238.0 892.8,236.7C896.4,235.4 900.1,233.9 903.8,232.8C907.4,231.7 911.1,231.0 914.7,230.1C918.4,229.2 922.1,228.4 925.7,227.4C929.4,226.4 933.0,225.3 936.6,224.3C940.2,223.3 944.0,222.3 947.6,221.3C951.2,220.3 954.9,218.9 958.5,218.1C962.1,217.3 965.9,217.1 969.5,216.4C973.1,215.7 976.8,214.5 980.4,213.7C984.0,212.9 988.0,212.0 991.3,211.5C994.6,211.0 996.5,211.2 1000.0,210.9C1003.5,210.6 1007.9,210.2 1012.5,209.4C1017.1,208.7 1022.9,207.1 1027.7,206.4C1032.5,205.7 1039.3,205.4 1041.6,205.2" fill="none" stroke="#44ff44" stroke-opacity="0.85" stroke-width="3.1" stroke-linejoin="round"/>
<path d="M12.5,432.4C20.4,432.4 46.2,432.4 60.0,432.3C73.8,432.2 86.7,432.2 95.0,432.0C103.3,431.8 105.8,431.4 110.0,431.0C114.2,430.6 116.7,430.2 120.0,429.5C123.3,428.8 126.7,427.8 130.0,426.5C133.3,425.2 136.7,423.2 140.0,421.5C143.3,419.8 146.7,418.1 150.0,416.5C153.3,414.9 156.7,413.4 160.0,412.0C163.3,410.6 166.7,409.3 170.0,408.0C173.3,406.7 174.7,407.1 180.0,404.0C185.3,400.9 195.0,394.6 202.0,389.6C209.0,384.6 215.9,378.4 222.2,374.0C228.5,369.6 234.0,367.7 239.9,363.1C245.8,358.6 252.1,353.0 257.6,346.7C263.1,340.4 267.2,332.9 272.7,325.3C278.2,317.7 285.8,307.4 290.4,301.3C294.9,295.2 294.2,295.1 300.0,289.0C305.8,282.9 316.9,272.6 325.3,265.0C333.7,257.4 342.1,250.0 350.5,243.5C358.9,237.0 367.4,232.0 375.8,225.9C384.2,219.8 394.7,211.2 401.0,206.9C407.3,202.6 409.8,201.4 413.6,199.8C417.4,198.2 420.8,198.0 423.7,197.6C426.6,197.2 428.4,197.0 431.3,197.6C434.2,198.2 438.0,200.0 441.4,201.4C444.8,202.8 446.4,205.1 451.5,206.2C456.6,207.2 466.6,206.9 471.7,207.7C476.8,208.4 477.6,209.5 481.8,210.7C486.0,211.9 491.5,213.7 497.0,215.0C502.5,216.3 509.6,217.6 514.6,218.3C519.6,219.1 521.8,219.3 527.3,219.5C532.8,219.7 541.2,219.1 547.5,219.5C553.8,219.9 559.3,221.6 565.2,222.1C571.1,222.6 577.3,222.6 582.8,222.6C588.3,222.6 593.0,222.6 598.0,222.1C603.0,221.6 607.3,220.7 613.1,219.5C618.9,218.3 627.4,217.3 632.8,215.1C638.2,212.9 640.0,210.5 645.5,206.3C651.0,202.1 659.4,194.9 665.7,189.8C672.0,184.7 677.4,179.6 683.3,175.5C689.2,171.4 693.8,168.8 701.0,165.1C708.2,161.4 717.9,157.3 726.3,153.2C734.7,149.1 743.1,144.6 751.5,140.6C759.9,136.6 770.1,131.8 776.8,129.2C783.5,126.5 787.7,125.4 791.9,124.7C796.1,124.0 799.0,124.5 802.0,124.9C805.0,125.3 805.4,125.0 809.6,127.2C813.8,129.4 820.8,134.1 827.3,138.1C833.8,142.1 840.7,147.1 848.4,151.4C856.1,155.7 866.5,161.1 873.6,164.0C880.8,166.9 885.0,167.3 891.3,169.0C897.6,170.7 903.9,171.8 911.5,174.1C919.1,176.4 929.2,180.8 936.8,182.9C944.4,185.0 950.7,185.8 957.0,186.7C963.3,187.6 968.3,187.7 974.6,188.5C980.9,189.3 989.3,190.5 994.8,191.3C1000.3,192.1 1003.9,193.0 1007.5,193.5C1011.1,194.0 1013.3,194.7 1016.3,194.5C1019.2,194.3 1022.2,193.0 1025.2,192.3C1028.2,191.6 1031.2,190.8 1034.0,190.5C1036.8,190.2 1040.9,190.5 1042.3,190.5" fill="none" stroke="#8c8c8c" stroke-opacity="0.85" stroke-width="3.4" stroke-linejoin="round"/>
<line x1="282" y1="238.3" x2="1142" y2="238.4" stroke="#0000ee" stroke-opacity="0.93" stroke-width="3"/>
<line x1="273.5" y1="264.4" x2="1183.8" y2="269.2" stroke="#0000ee" stroke-opacity="0.93" stroke-width="3"/>
<polyline points="13.9,512.6 22.3,517.6 30.6,527.3 39.0,537.2 47.4,540.9 55.7,532.8 64.1,517.6 72.4,502.5 80.8,496.4 89.1,496.8 97.5,495.4 105.9,491.4 114.2,488.3 122.6,489.3 130.9,491.0 139.3,491.4 147.6,490.8 156.0,493.0 164.4,496.0 172.7,497.4 181.1,494.4 189.4,489.3 197.8,483.3 206.1,484.7 214.5,492.4 222.9,501.5 231.2,507.5 239.6,507.5 247.9,496.4 256.3,487.3 264.6,478.2 273.0,474.6 281.4,477.2 289.7,485.3 298.1,496.4 306.4,505.5 314.8,509.9 323.1,508.5 331.5,510.6 339.9,516.6 348.2,526.1 356.6,526.3 364.9,520.1 373.3,512.6 381.6,507.5 390.0,503.5 398.4,498.4 406.7,502.9 415.1,516.6 423.4,537.4 431.8,547.9 440.1,548.3 448.5,543.9 456.9,540.9 465.2,536.8 473.6,532.4 481.9,529.7 490.3,533.4 498.6,542.9 507.0,553.0 515.4,560.1 523.7,553.0 532.1,533.8 540.4,503.5 548.8,487.3 557.1,481.3 565.5,485.7 573.9,493.4 582.2,499.4 590.6,512.6 598.9,521.3 607.3,526.1 615.6,516.6 624.0,502.5 632.4,492.4 640.7,485.3 649.1,482.7 657.4,480.7 665.8,480.7 674.1,485.3 682.5,492.4 690.9,499.4 699.2,501.9 707.6,505.5 715.9,509.9 724.3,518.6 732.6,526.1 741.0,529.3 749.4,529.1 757.7,521.7 766.1,513.6 774.4,505.5 782.8,504.5 791.1,515.6 799.5,528.3 807.8,536.2 816.2,531.4 824.6,529.3 832.9,529.7 841.3,532.4 849.6,530.8 858.0,526.3 866.3,525.1 874.7,523.3 883.1,521.1 891.4,508.9 899.8,497.0 908.1,489.3 916.5,489.3 924.8,498.0 933.2,505.1 941.6,509.9 949.9,512.6 958.3,521.3 966.6,534.4 975.0,547.5 983.3,553.0 991.7,556.9 1000.1,555.1 1008.4,556.4 1016.8,553.8 1025.1,544.3 1033.5,531.1 1041.8,517.6" fill="none" stroke="#f0283c" stroke-opacity="0.9" stroke-width="1"/>
<polyline points="13.9,513.0 22.3,529.3 30.6,536.8 39.0,546.3 47.4,537.8 55.7,515.6 64.1,498.4 72.4,493.4 80.8,498.4 89.1,497.4 97.5,489.7 105.9,487.3 114.2,487.3 122.6,493.4 130.9,490.4 139.3,489.3 147.6,492.0 156.0,496.4 164.4,498.8 172.7,496.4 181.1,489.3 189.4,481.3 197.8,480.3 206.1,490.4 214.5,503.5 222.9,510.6 231.2,509.5 239.6,501.5 247.9,484.3 256.3,476.2 264.6,472.2 273.0,474.2 281.4,483.3 289.7,496.4 298.1,508.5 306.4,512.6 314.8,508.5 323.1,503.5 331.5,518.6 339.9,528.7 348.2,531.4 356.6,518.6 364.9,510.6 373.3,508.5 381.6,503.5 390.0,498.4 398.4,493.4 406.7,516.6 415.1,540.9 423.4,555.4 431.8,547.9 440.1,541.5 448.5,542.9 456.9,537.8 465.2,529.7 473.6,528.3 481.9,530.8 490.3,541.9 498.6,554.0 507.0,563.5 515.4,564.5 523.7,530.8 532.1,504.5 540.4,477.2 548.8,481.3 557.1,485.7 565.5,490.8 573.9,502.5 582.2,505.5 590.6,528.1 598.9,530.4 607.3,520.7 615.6,501.5 624.0,487.3 632.4,488.3 640.7,481.3 649.1,479.2 657.4,480.3 665.8,482.9 674.1,493.4 682.5,500.5 690.9,505.5 699.2,500.5 707.6,510.6 715.9,519.6 724.3,526.1 732.6,532.4 741.0,529.7 749.4,524.7 757.7,512.6 766.1,502.5 774.4,500.5 782.8,510.6 791.1,536.2 799.5,538.4 807.8,532.8 816.2,522.7 824.6,531.4 832.9,534.4 841.3,532.4 849.6,527.1 858.0,520.7 866.3,528.3 874.7,521.7 883.1,513.6 891.4,491.4 899.8,486.3 908.1,488.3 916.5,494.4 924.8,510.2 933.2,509.1 941.6,510.6 949.9,516.6 958.3,535.8 966.6,548.9 975.0,556.4 983.3,553.6 991.7,558.4 1000.1,554.4 1008.4,558.4 1016.8,551.8 1025.1,523.5 1033.5,517.2 1041.8,511.6" fill="none" stroke="#4a3cf0" stroke-opacity="0.9" stroke-width="1"/>
<g shape-rendering="crispEdges" stroke="#4a4a4a" stroke-width="1">
<line x1="8" y1="460.5" x2="1292" y2="460.5"/>
<line x1="8" y1="570.5" x2="1236" y2="570.5"/>
<line x1="1235.5" y1="58" x2="1235.5" y2="571"/>
<line x1="1236" y1="88.5" x2="1239" y2="88.5"/>
<line x1="1236" y1="146.5" x2="1239" y2="146.5"/>
<line x1="1236" y1="263.5" x2="1239" y2="263.5"/>
<line x1="1236" y1="322.5" x2="1239" y2="322.5"/>
<line x1="1236" y1="380.5" x2="1239" y2="380.5"/>
<line x1="1236" y1="438.5" x2="1239" y2="438.5"/>
<line x1="1236" y1="469.5" x2="1239" y2="469.5"/>
<line x1="1236" y1="498.5" x2="1239" y2="498.5"/>
<line x1="1236" y1="555.5" x2="1239" y2="555.5"/>
<line x1="14.5" y1="571" x2="14.5" y2="574"/>
<line x1="90.5" y1="571" x2="90.5" y2="574"/>
<line x1="165.5" y1="571" x2="165.5" y2="574"/>
<line x1="265.5" y1="571" x2="265.5" y2="574"/>
<line x1="340.5" y1="571" x2="340.5" y2="574"/>
<line x1="416.5" y1="571" x2="416.5" y2="574"/>
<line x1="524.5" y1="571" x2="524.5" y2="574"/>
<line x1="599.5" y1="571" x2="599.5" y2="574"/>
<line x1="675.5" y1="571" x2="675.5" y2="574"/>
<line x1="783.5" y1="571" x2="783.5" y2="574"/>
<line x1="858.5" y1="571" x2="858.5" y2="574"/>
<line x1="934.5" y1="571" x2="934.5" y2="574"/>
<line x1="1017.5" y1="571" x2="1017.5" y2="574"/>
<line x1="1092.5" y1="571" x2="1092.5" y2="574"/>
<line x1="1168.5" y1="571" x2="1168.5" y2="574"/>
</g>
<clipPath id="cl"><rect x="8" y="572" width="1291" height="22"/></clipPath>
<g clip-path="url(#cl)" font-family="Liberation Sans, Arial, sans-serif" font-size="11" fill="#555" text-anchor="middle">
<text x="14.5" y="585">Nov</text>
<text x="90.5" y="585">10</text>
<text x="165.5" y="585">19</text>
<text x="265.5" y="585">Dec</text>
<text x="340.5" y="585">10</text>
<text x="416.5" y="585">19</text>
<text x="524.5" y="585" font-weight="bold">2025</text>
<text x="599.5" y="585">10</text>
<text x="675.5" y="585">19</text>
<text x="783.5" y="585">Feb</text>
<text x="858.5" y="585">10</text>
<text x="934.5" y="585">19</text>
<text x="1017.5" y="585">Mar</text>
<text x="1092.5" y="585">10</text>
<text x="1168.5" y="585">19</text>
</g>
<g font-family="Liberation Sans, Arial, sans-serif" font-size="11" fill="#555">
<text x="1242" y="91.7">3.50000</text>
<text x="1242" y="149.7">3.00000</text>
<text x="1242" y="266.7">2.00000</text>
<text x="1242" y="325.7">1.50000</text>
<text x="1242" y="383.7">1.00000</text>
<text x="1242" y="442.4">0.50000</text>
<text x="1242" y="473.5">100.0000</text>
<text x="1242" y="501.7">75.0000</text>
<text x="1242" y="558.7">25.0000</text>
</g>
<g font-family="Liberation Sans, Arial, sans-serif" font-size="11">
<rect x="1235" y="183" width="51" height="16" fill="#666666" shape-rendering="crispEdges"/>
<line x1="1235" y1="190.5" x2="1239" y2="190.5" stroke="#fff" stroke-width="1" shape-rendering="crispEdges"/>
<text x="1242" y="195.0" fill="#fff" font-weight="bold">2.61975</text>
<rect x="1235" y="199" width="51" height="16" fill="#ffff00" shape-rendering="crispEdges"/>
<line x1="1235" y1="206.5" x2="1239" y2="206.5" stroke="#000" stroke-width="1" shape-rendering="crispEdges"/>
<text x="1242" y="211.0" fill="#000" font-weight="normal">2.57529</text>
<rect x="1235" y="215" width="51" height="16" fill="#00e600" shape-rendering="crispEdges"/>
<line x1="1235" y1="222.5" x2="1239" y2="222.5" stroke="#000" stroke-width="1" shape-rendering="crispEdges"/>
<text x="1242" y="227.0" fill="#000" font-weight="normal">2.49077</text>
<rect x="1235" y="231" width="51" height="16" fill="#4a6ee0" shape-rendering="crispEdges"/>
<line x1="1235" y1="238.5" x2="1239" y2="238.5" stroke="#fff" stroke-width="1" shape-rendering="crispEdges"/>
<text x="1242" y="243.0" fill="#fff" font-weight="bold">2.47850</text>
<rect x="1235" y="300" width="50" height="16" fill="#ee00ff" shape-rendering="crispEdges"/>
<line x1="1235" y1="307.5" x2="1239" y2="307.5" stroke="#fff" stroke-width="1" shape-rendering="crispEdges"/>
<text x="1242" y="312.0" fill="#fff" font-weight="bold">1.62011</text>
<rect x="1235" y="504" width="51" height="16" fill="#1414ff" shape-rendering="crispEdges"/>
<line x1="1235" y1="511.5" x2="1239" y2="511.5" stroke="#fff" stroke-width="1" shape-rendering="crispEdges"/>
<text x="1242" y="516.0" fill="#fff" font-weight="bold">62.3628</text>
<rect x="1235" y="520" width="51" height="16" fill="#ff1414" shape-rendering="crispEdges"/>
<line x1="1235" y1="527.5" x2="1239" y2="527.5" stroke="#fff" stroke-width="1" shape-rendering="crispEdges"/>
<text x="1242" y="532.0" fill="#fff" font-weight="bold">57.3400</text>
</g>
<g font-family="Liberation Sans, Arial, sans-serif" fill="#0c0c0c">
<text x="16" y="22.3" font-size="13.4" textLength="491" lengthAdjust="spacing">Published on Investing.com, 4/Mar/2025 - 22:48:48 GMT, Powered by TradingView.</text>
<text x="14.5" y="45.2" font-size="13.4" font-weight="bold" textLength="176" lengthAdjust="spacing">XRP/USD, OKX:XRP/USD, D</text>
<text x="17.5" y="77.6" font-size="13.4" textLength="94" lengthAdjust="spacing">MA (20, high, 0)</text>
<text x="17.5" y="91.0" font-size="13.4" textLength="88" lengthAdjust="spacing">MA (50, low, 0)</text>
<text x="17.5" y="104.9" font-size="13.4" textLength="108" lengthAdjust="spacing">MA (100, close, 0)</text>
<text x="17.5" y="118.8" font-size="13.4" textLength="102" lengthAdjust="spacing">MA (200, high, 0)</text>
<text x="17.5" y="481.2" font-size="13.6" textLength="84.5" lengthAdjust="spacing">Stoch (8, 3, 3)</text>
</g>
<g font-family="Liberation Sans, Arial, sans-serif">
<text x="20.3" y="444.2" font-size="19.5" font-weight="bold" fill="#111" stroke="#111" stroke-width="1.1" textLength="90.3" lengthAdjust="spacingAndGlyphs">Investing</text>
<text x="110.8" y="444.2" font-size="13.5" fill="#777" textLength="29.5" lengthAdjust="spacingAndGlyphs">.com</text>
</g>
<rect x="80" y="425.5" width="5.6" height="4.4" fill="#fff"/>
<polygon points="80.6,430.2 83.6,425.9 85.7,427.3 83.5,430.7" fill="#ff9a1e"/>
</svg>
</body></html>
